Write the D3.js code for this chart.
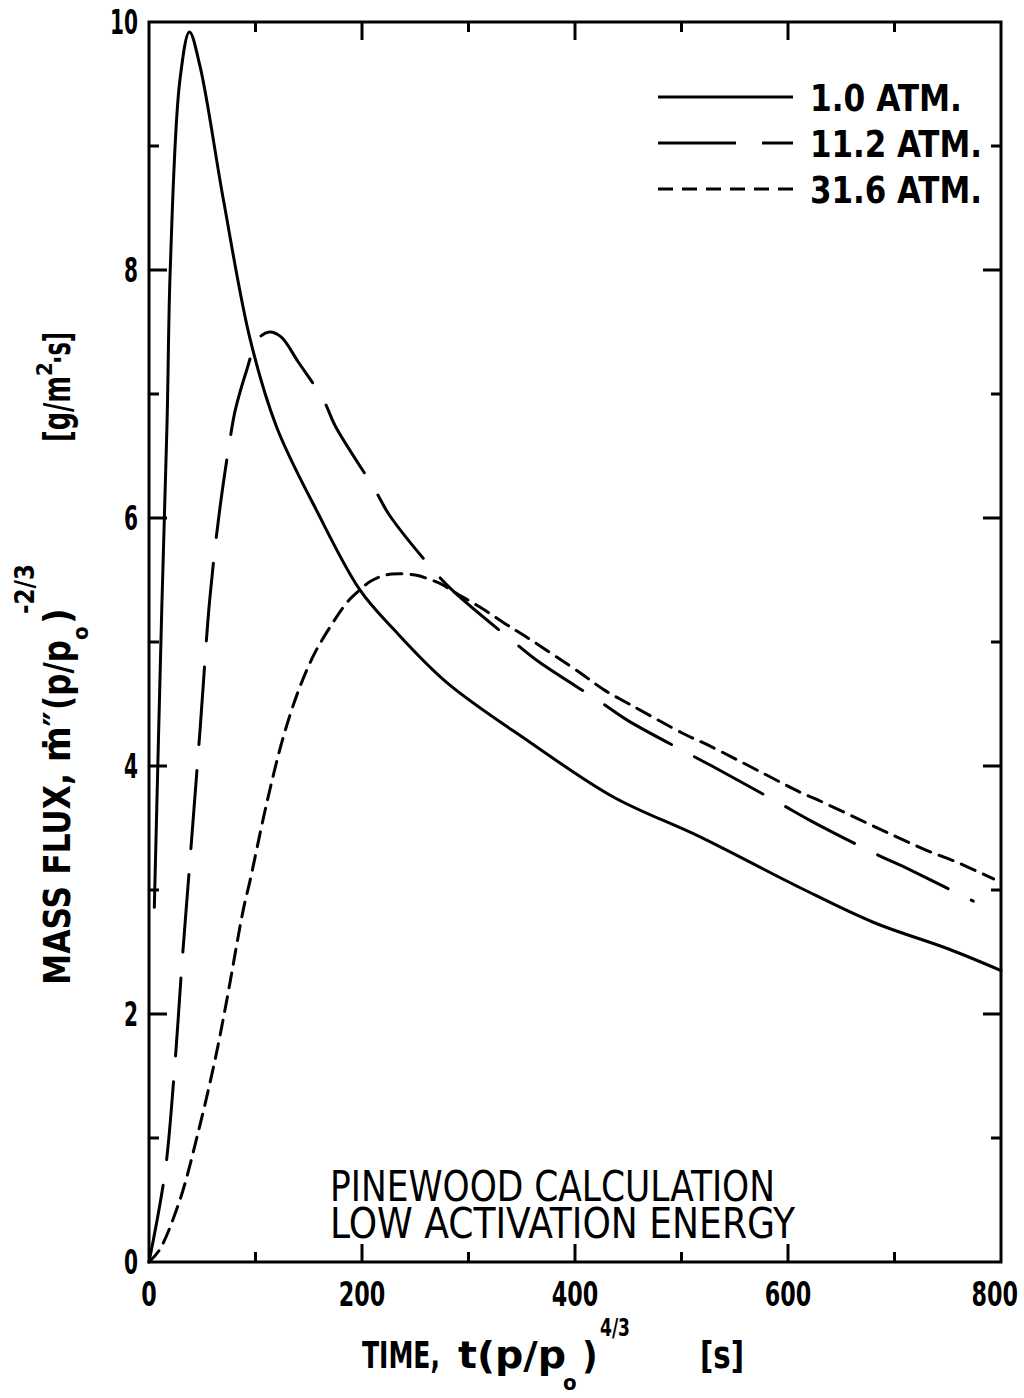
<!DOCTYPE html>
<html>
<head>
<meta charset="utf-8">
<script src="https://cdn.jsdelivr.net/npm/d3@7"></script>
<style>
  body { margin: 0; background: #fff; }
  svg { display: block; }
  text { font-family: "DejaVu Sans Condensed", "Liberation Sans", sans-serif; fill: #000; }
</style>
</head>
<body>
<svg id="chart" width="1024" height="1398"></svg>
<script>
// Data: time t(p/p0)^(4/3) [s] and mass flux [g/m2 s]
const timeAtm1 = [5, 12, 17, 20, 29, 38, 48, 70, 95, 120, 158, 198, 230, 280, 358, 436, 517, 611, 680, 752, 800];
const fluxAtm1 = [2.86, 5.27, 6.79, 8.02, 9.53, 9.92, 9.64, 8.56, 7.44, 6.73, 6.05, 5.42, 5.10, 4.67, 4.19, 3.75, 3.43, 3.02, 2.74, 2.52, 2.35];

const timeAtm112 = [0, 15, 24, 31, 38.5, 48, 57, 66, 76, 81, 92, 102, 113, 124, 140, 164, 175, 212, 226, 270, 287, 344, 366, 425, 449, 511, 535, 592, 621, 685, 708, 774];
const fluxAtm112 = [0, 0.72, 1.56, 2.41, 3.24, 4.3, 5.34, 6.04, 6.63, 6.87, 7.2, 7.44, 7.5, 7.46, 7.26, 6.95, 6.74, 6.23, 6.02, 5.55, 5.40, 4.99, 4.84, 4.51, 4.37, 4.08, 3.97, 3.70, 3.56, 3.28, 3.19, 2.91];

const timeAtm316 = [0, 10, 29, 46, 62, 73, 88.5, 95, 110, 125, 140, 155, 170, 186, 198, 208, 222, 235, 250, 262, 276, 287, 311, 334, 358, 405, 428, 453, 502, 527, 577, 611, 627, 679, 704, 730, 757, 793];
const fluxAtm316 = [0, 0.1, 0.5, 1.04, 1.63, 2.11, 2.84, 3.08, 3.68, 4.2, 4.6, 4.9, 5.12, 5.32, 5.42, 5.49, 5.54, 5.55, 5.54, 5.51, 5.46, 5.40, 5.28, 5.15, 5.02, 4.75, 4.61, 4.49, 4.26, 4.16, 3.94, 3.79, 3.73, 3.52, 3.42, 3.32, 3.23, 3.09];

const xTicks = [0, 200, 400, 600, 800];
const yTicks = [0, 2, 4, 6, 8, 10];
const legendLabels = ['1.0 ATM.', '11.2 ATM.', '31.6 ATM.'];
const noteLines = ['PINEWOOD CALCULATION', 'LOW ACTIVATION ENERGY'];

// Plot box
const box = { left: 149, right: 1001, top: 22, bottom: 1262 };

const svg = d3.select('#chart');

const xScale = d3.scaleLinear().domain([0, 800]).range([box.left, box.right]);
const yScale = d3.scaleLinear().domain([0, 10]).range([box.bottom, box.top]);

// squeeze a text to a given width (plotter lettering is narrow)
function fit(sel, w) {
  return sel.attr('textLength', w).attr('lengthAdjust', 'spacingAndGlyphs');
}

// Frame
svg.append('rect')
  .attr('x', box.left).attr('y', box.top)
  .attr('width', box.right - box.left).attr('height', box.bottom - box.top)
  .attr('fill', 'none').attr('stroke', '#000').attr('stroke-width', 3);

// Ticks on all four sides, pointing in
const minorX = d3.range(100, 800, 100);
const minorY = d3.range(1, 10, 1);
const tickG = svg.append('g').attr('stroke', '#000').attr('stroke-width', 3);

minorX.forEach(v => {
  const len = v % 200 === 0 ? 18 : 10;
  tickG.append('line').attr('x1', xScale(v)).attr('x2', xScale(v))
    .attr('y1', box.bottom).attr('y2', box.bottom - len);
  tickG.append('line').attr('x1', xScale(v)).attr('x2', xScale(v))
    .attr('y1', box.top).attr('y2', box.top + len);
});
minorY.forEach(v => {
  const len = v % 2 === 0 ? 18 : 10;
  tickG.append('line').attr('x1', box.left).attr('x2', box.left + len)
    .attr('y1', yScale(v)).attr('y2', yScale(v));
  tickG.append('line').attr('x1', box.right).attr('x2', box.right - len)
    .attr('y1', yScale(v)).attr('y2', yScale(v));
});

// Tick labels
svg.append('g').selectAll('text')
  .data(xTicks).enter().append('text')
  .attr('x', d => d === 800 ? 1018 : xScale(d))
  .attr('y', box.bottom + 44)
  .attr('text-anchor', d => d === 800 ? 'end' : 'middle')
  .attr('font-size', 34).attr('font-weight', 'bold')
  .attr('textLength', d => String(d).length * 15.5)
  .attr('lengthAdjust', 'spacingAndGlyphs')
  .text(d => d);

svg.append('g').selectAll('text')
  .data(yTicks).enter().append('text')
  .attr('x', box.left - 11)
  .attr('y', d => yScale(d) + 12)
  .attr('text-anchor', 'end')
  .attr('font-size', 34).attr('font-weight', 'bold')
  .attr('textLength', d => String(d).length * 14)
  .attr('lengthAdjust', 'spacingAndGlyphs')
  .text(d => d);

// Curves
const line = d3.line()
  .x(d => xScale(d[0]))
  .y(d => yScale(d[1]))
  .curve(d3.curveCatmullRom.alpha(0.5));

const series = [
  { pts: d3.zip(timeAtm1, fluxAtm1), dash: null },
  { pts: d3.zip(timeAtm112, fluxAtm112), dash: '78,26' },
  { pts: d3.zip(timeAtm316, fluxAtm316), dash: '15,9' }
];

series.forEach(s => {
  svg.append('path')
    .attr('d', line(s.pts))
    .attr('fill', 'none')
    .attr('stroke', '#000')
    .attr('stroke-width', 3)
    .attr('stroke-linecap', 'round')
    .attr('stroke-dasharray', s.dash);
});

// Legend
const legendY = [97, 143, 189];
const legendW = [152, 172, 172];
series.forEach((s, i) => {
  svg.append('line')
    .attr('x1', 658).attr('x2', 793)
    .attr('y1', legendY[i]).attr('y2', legendY[i])
    .attr('stroke', '#000').attr('stroke-width', 3)
    .attr('stroke-dasharray', s.dash);
  fit(svg.append('text')
    .attr('x', 810).attr('y', legendY[i] + 14)
    .attr('font-size', 38).attr('font-weight', 'bold')
    .text(legendLabels[i]), legendW[i]);
});

// Annotation
noteLines.forEach((t, i) => {
  fit(svg.append('text')
    .attr('x', 330).attr('y', 1201 + i * 37)
    .attr('font-size', 42)
    .text(t), i === 0 ? 445 : 465);
});

// X axis title
const xt = svg.append('g').attr('font-weight', 'bold');
fit(xt.append('text').attr('x', 362).attr('y', 1368).attr('font-size', 38).text('TIME,'), 78);
fit(xt.append('text').attr('x', 458).attr('y', 1368).attr('font-size', 38).text('t(p/p'), 108);
xt.append('text').attr('x', 563).attr('y', 1390).attr('font-size', 22).text('o');
xt.append('text').attr('x', 582).attr('y', 1368).attr('font-size', 38).text(')');
fit(xt.append('text').attr('x', 600).attr('y', 1336).attr('font-size', 24).text('4/3'), 30);
fit(xt.append('text').attr('x', 700).attr('y', 1368).attr('font-size', 38).text('[s]'), 44);

// Y axis title (rotated)
const yt = svg.append('g')
  .attr('transform', 'translate(70,0) rotate(-90)')
  .attr('font-weight', 'bold');
fit(yt.append('text').attr('x', -985).attr('y', 0).attr('font-size', 38).text('MASS FLUX,'), 212);
yt.append('text').attr('x', -762).attr('y', 0).attr('font-size', 38).text('\u1E41\u2033');
fit(yt.append('text').attr('x', -710).attr('y', 0).attr('font-size', 38).text('(p/p'), 70);
yt.append('text').attr('x', -640).attr('y', 18).attr('font-size', 22).text('o');
yt.append('text').attr('x', -624).attr('y', 0).attr('font-size', 38).text(')');
fit(yt.append('text').attr('x', -614).attr('y', -36).attr('font-size', 26).text('-2/3'), 50);
fit(yt.append('text').attr('x', -442).attr('y', 0).attr('font-size', 38).text('[g/m'), 66);
yt.append('text').attr('x', -376).attr('y', -18).attr('font-size', 22).text('2');
fit(yt.append('text').attr('x', -364).attr('y', 0).attr('font-size', 38).text('\u00B7s]'), 32);
</script>
</body>
</html>
